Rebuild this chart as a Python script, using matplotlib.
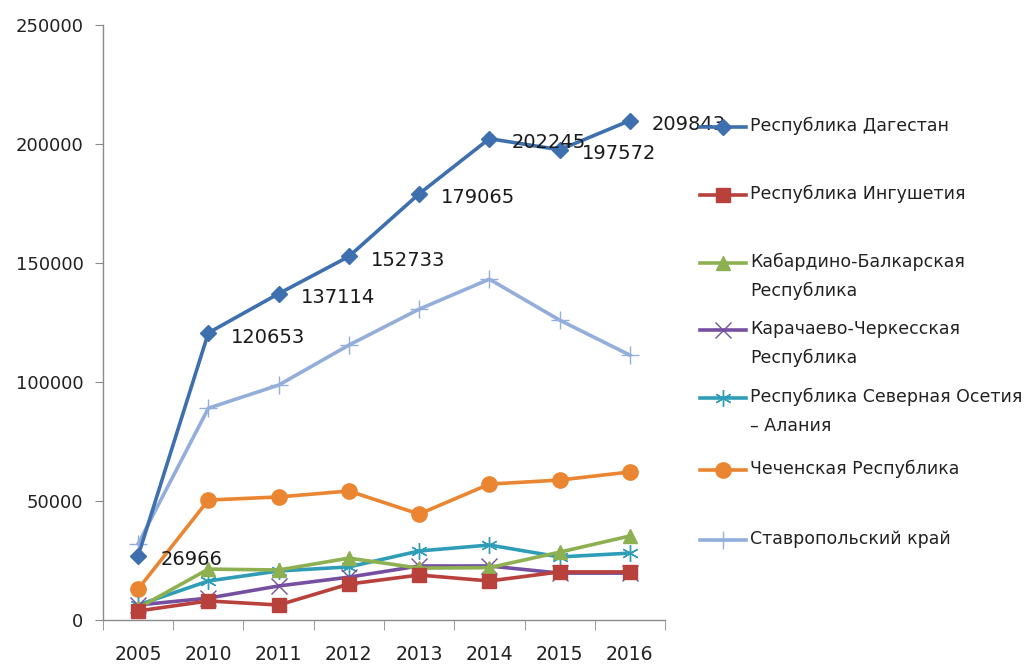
import matplotlib
matplotlib.use("Agg")
import matplotlib.pyplot as plt
from matplotlib.lines import Line2D

# Data
years = ["2005", "2010", "2011", "2012", "2013", "2014", "2015", "2016"]
dagestan = [26966, 120653, 137114, 152733, 179065, 202245, 197572, 209843]
ingushetia = [3800, 8000, 6300, 15100, 18900, 16400, 20200, 20200]
kbr = [5000, 21400, 21000, 26000, 21800, 22000, 28500, 35300]
kchr = [6300, 9200, 14300, 18000, 22700, 22700, 19700, 19700]
osetia = [6300, 16400, 20600, 22300, 29000, 31500, 26500, 28100]
chechnya = [13000, 50400, 51700, 54200, 44500, 57100, 58800, 62200]
stavropol = [32000, 89000, 98700, 115500, 130600, 143200, 126000, 111300]

names = ["Республика Дагестан", "Республика Ингушетия",
         "Кабардино-Балкарская\nРеспублика", "Карачаево-Черкесская\nРеспублика",
         "Республика Северная Осетия\n– Алания", "Чеченская Республика",
         "Ставропольский край"]

series = [dagestan, ingushetia, kbr, kchr, osetia, chechnya, stavropol]
colors = ["#3E6FAE", "#B8413C", "#8DB050", "#7650A0", "#2F9DB8", "#EA8531", "#93AEDB"]
markers = ["D", "s", "^", "x", (6, 2, 0), "o", "+"]
msizes = [8, 10, 10, 11, 12, 11, 13]

plt.rcParams["font.family"] = "DejaVu Sans"

fig = plt.figure(figsize=(10.32, 6.64), dpi=100)
ax = fig.add_axes([103 / 1032, 1 - 620 / 664, 562 / 1032, 595 / 664])

x = list(range(len(years)))
# draw in reverse so Dagestan is on top
for i in [6, 5, 4, 3, 2, 1, 0]:
    ax.plot(x, series[i], color=colors[i], linewidth=2.6, marker=markers[i],
            markersize=msizes[i], markeredgewidth=1,
            markerfacecolor=colors[i], markeredgecolor=colors[i], zorder=3 + (6 - i))

# Dagestan value labels
for xi, v in zip(x, dagestan):
    ax.annotate(f"{v}", (xi, v), xytext=(16, -3), textcoords="offset points",
                ha="left", va="center", fontsize=14, color="#1a1a1a", zorder=20)

ax.set_xlim(-0.5, len(years) - 0.5)
ax.set_ylim(0, 250000)
ax.set_yticks(range(0, 250001, 50000))
ax.set_xticks(x)
ax.set_xticklabels(years)
ax.set_xticks([i - 0.5 for i in range(len(years) + 1)], minor=True)
ax.tick_params(axis="x", which="major", length=0, pad=18, labelsize=13.5, labelcolor="#222222")
ax.tick_params(axis="x", which="minor", length=7, color="#8a8a8a", direction="out")
ax.tick_params(axis="y", length=6, color="#8a8a8a", labelsize=13, labelcolor="#222222", pad=8)
for sp in ["top", "right"]:
    ax.spines[sp].set_visible(False)
for sp in ["left", "bottom"]:
    ax.spines[sp].set_color("#8a8a8a")
    ax.spines[sp].set_linewidth(1.0)

# Legend drawn manually in pixel space
lax = fig.add_axes([0, 0, 1, 1], facecolor="none")
lax.set_xlim(0, 1032)
lax.set_ylim(664, 0)
lax.axis("off")
leg_y = [127, 195, 263, 330, 398, 470, 540]
for i, (name, yy) in enumerate(zip(names, leg_y)):
    lax.add_line(Line2D([700, 746], [yy, yy], color=colors[i], linewidth=2.6))
    lax.add_line(Line2D([723], [yy], color=colors[i], marker=markers[i],
                        markersize=msizes[i], markeredgewidth=1,
                        markerfacecolor=colors[i], markeredgecolor=colors[i]))
    lax.text(750, yy - 10, name, ha="left", va="top", fontsize=12.5,
             color="#222222", linespacing=1.75)

fig.savefig("out.png", dpi=100)
